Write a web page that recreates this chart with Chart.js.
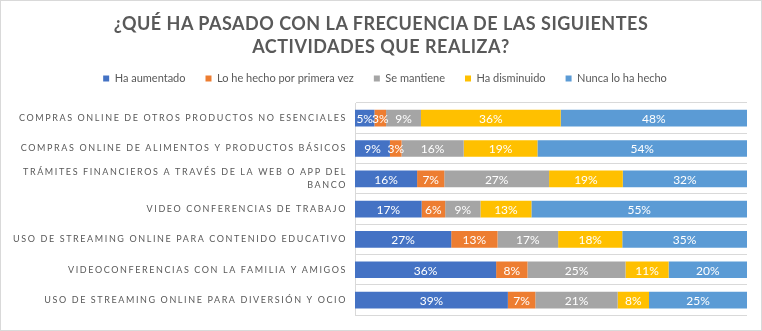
<!DOCTYPE html>
<html>
<head>
<meta charset="utf-8">
<script src="https://cdn.jsdelivr.net/npm/chart.js@4.4.0/dist/chart.umd.min.js"></script>
<style>
  html, body { margin: 0; padding: 0; background: #fff; }
  #frame { position: relative; width: 760px; height: 329px; border: 1px solid #d9d9d9; }
  #title { position: absolute; top: 11px; left: 0; width: 100%; text-align: center; font: bold 18px Lato, sans-serif; letter-spacing: 0.5px; color: #595959; line-height: 22.5px; }
  canvas { position: absolute; left: 0; top: 0; }
</style>
</head>
<body>
<div id="frame">
  <canvas id="chart" width="760" height="329"></canvas>
  <div id="title">¿QUÉ HA PASADO CON LA FRECUENCIA DE LAS SIGUIENTES<br>ACTIVIDADES QUE REALIZA?</div>
</div>
<script>
const categories = [
    'COMPRAS ONLINE DE OTROS PRODUCTOS NO ESENCIALES',
    'COMPRAS ONLINE DE ALIMENTOS Y PRODUCTOS BÁSICOS',
    ['TRÁMITES FINANCIEROS A TRAVÉS DE LA WEB O APP DEL', 'BANCO'],
    'VIDEO CONFERENCIAS DE TRABAJO',
    'USO DE STREAMING ONLINE PARA CONTENIDO EDUCATIVO',
    'VIDEOCONFERENCIAS CON LA FAMILIA Y AMIGOS',
    'USO DE STREAMING ONLINE PARA DIVERSIÓN Y OCIO'
]

const haAumentado = [5, 9, 16, 17, 27, 36, 39]
const primeraVez = [3, 3, 7, 6, 13, 8, 7]
const seMantiene = [9, 16, 27, 9, 17, 25, 21]
const haDisminuido = [36, 19, 19, 13, 18, 11, 8]
const nuncaLoHaHecho = [48, 54, 32, 55, 35, 20, 25]

const seriesNames = ['Ha aumentado', 'Lo he hecho por primera vez', 'Se mantiene', 'Ha disminuido', 'Nunca lo ha hecho']
const seriesColors = ['#4472c4', '#ed7d31', '#a5a5a5', '#ffc000', '#5b9bd5']

const allSeries = [haAumentado, primeraVez, seMantiene, haDisminuido, nuncaLoHaHecho]

// 100% stacked: every row is scaled to its own total
const rowTotals = categories.map((c, i) => allSeries.reduce((s, arr) => s + arr[i], 0))

const datasets = allSeries.map((values, k) => ({
    label: seriesNames[k],
    data: values.map((v, i) => v / rowTotals[i] * 100),
    raw: values,
    backgroundColor: seriesColors[k],
    borderWidth: 0,
    barPercentage: 0.55,
    categoryPercentage: 1,
}))

const barLabels = {
    id: 'barLabels',
    afterLayout(chart) {
        // legend sits a bit right of the canvas centre in the original
        chart.legend.left += 22
    },
    afterDatasetsDraw(chart) {
        const ctx = chart.ctx
        ctx.save()
        ctx.font = '12px Lato, sans-serif'
        ctx.fillStyle = '#ffffff'
        ctx.textAlign = 'center'
        ctx.textBaseline = 'middle'
        chart.data.datasets.forEach((ds, i) => {
            chart.getDatasetMeta(i).data.forEach((bar, j) => {
                const p = bar.getCenterPoint()
                ctx.fillText(ds.raw[j] + '%', p.x, p.y + 1)
            })
        })
        ctx.restore()
        // category labels are spaced out, they are drawn after this (ticks z: 1)
        ctx.letterSpacing = '1.6px'
    },
    afterDraw(chart) {
        chart.ctx.letterSpacing = '0px'
    }
}

new Chart(document.getElementById('chart'), {
    type: 'bar',
    data: { labels: categories, datasets: datasets },
    plugins: [barLabels],
    options: {
        indexAxis: 'y',
        responsive: false,
        animation: false,
        layout: { padding: { top: 52, right: 14, bottom: 13, left: 0 } },
        plugins: {
            tooltip: { enabled: false },
            legend: {
                position: 'top',
                labels: {
                    boxWidth: 6,
                    boxHeight: 6,
                    padding: 20,
                    color: '#595959',
                    font: { family: 'Lato, sans-serif', size: 11 },
                }
            }
        },
        scales: {
            x: {
                stacked: true,
                min: 0,
                max: 100,
                position: 'top',
                ticks: { display: false },
                grid: { display: false },
                border: { display: false },
                afterFit: (s) => { s.height = 9 },
            },
            y: {
                stacked: true,
                grid: { color: '#d9d9d9', drawTicks: false, offset: true },
                border: { color: '#d9d9d9' },
                ticks: {
                    z: 1,
                    autoSkip: false,
                    padding: 8,
                    color: '#595959',
                    font: { family: 'Lato, sans-serif', size: 9, lineHeight: 1.5 },
                },
                afterFit: (s) => { s.width = 354 },
            }
        }
    }
})
</script>
</body>
</html>
